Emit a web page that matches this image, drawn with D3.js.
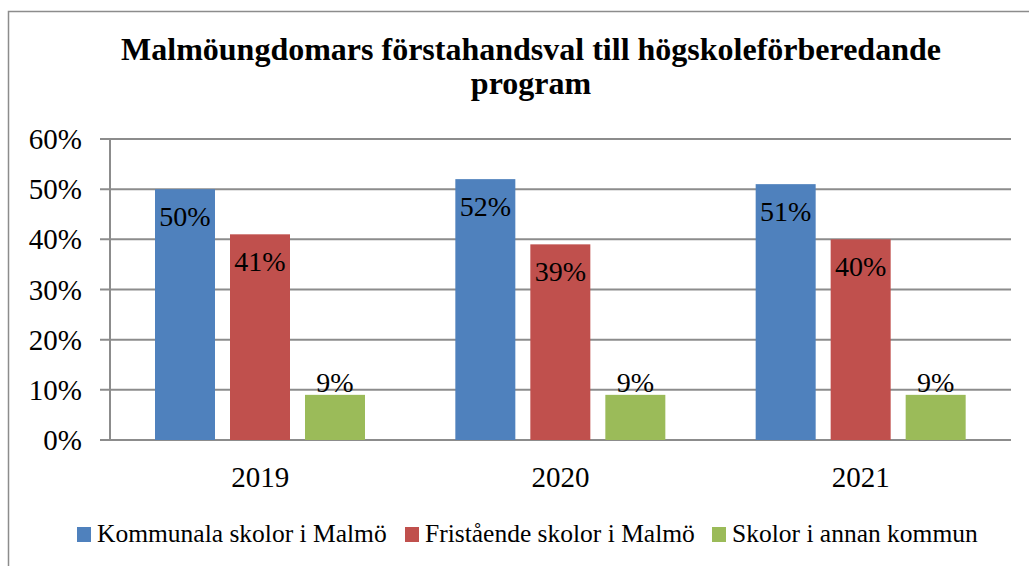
<!DOCTYPE html>
<html>
<head>
<meta charset="utf-8">
<script src="https://cdn.jsdelivr.net/npm/d3@7"></script>
<style>
  body { margin: 0; background: #fff; }
</style>
</head>
<body>
<div id="chart"></div>
<script>
// data
const years = ["2019", "2020", "2021"];
const seriesNames = ["Kommunala skolor i Malmö", "Fristående skolor i Malmö", "Skolor i annan kommun"];
const kommunala = [0.50, 0.52, 0.51];
const fristaende = [0.41, 0.39, 0.40];
const annanKommun = [0.09, 0.09, 0.09];
const yTicks = [0, 0.1, 0.2, 0.3, 0.4, 0.5, 0.6];
const colors = ["#4f81bd", "#c0504d", "#9bbb59"];

const FONT = "'Liberation Serif', 'DejaVu Serif', 'Times New Roman', serif";

const W = 1029, H = 566;
const margin = {top: 139, right: 18, bottom: 126, left: 110};
const width = W - margin.left - margin.right,
      height = H - margin.top - margin.bottom;

const svg = d3.select("#chart").append("svg")
    .attr("width", W)
    .attr("height", H)
    .attr("font-family", FONT);

// outer frame
svg.append("rect")
    .attr("x", 8.5).attr("y", 11.5)
    .attr("width", W + 10).attr("height", H + 10)
    .attr("fill", "none").attr("stroke", "#8c8c8c").attr("stroke-width", 1.5);

// title
const title = svg.append("text")
    .attr("text-anchor", "middle")
    .attr("font-family", FONT)
    .attr("font-weight", "bold")
    .attr("font-size", 32);
title.append("tspan").attr("x", 531).attr("y", 60).text("Malmöungdomars förstahandsval till högskoleförberedande");
title.append("tspan").attr("x", 531).attr("y", 94).text("program");

const g = svg.append("g")
    .attr("transform", "translate(" + margin.left + "," + margin.top + ")");

const x = d3.scaleBand().domain(years).range([0, width]);
const x1 = d3.scaleBand().domain([0, 1, 2]).range([45, 255]).paddingInner(0.2);
const y = d3.scaleLinear().domain([0, 0.6]).range([height, 0]);

// grid
g.selectAll(".grid").data(yTicks).enter()
    .append("line")
    .attr("x1", -10).attr("x2", width)
    .attr("y1", d => y(d)).attr("y2", d => y(d))
    .attr("stroke", "#8c8c8c").attr("stroke-width", 2);

// y axis line
g.append("line")
    .attr("x1", 0).attr("x2", 0)
    .attr("y1", 0).attr("y2", height)
    .attr("stroke", "#8c8c8c").attr("stroke-width", 2);

// y labels
const yAxis = g.append("g")
    .call(d3.axisLeft(y).tickValues(yTicks).tickFormat(d3.format(".0%")).tickSize(0).tickPadding(28));
yAxis.attr("font-family", FONT).attr("font-size", 29);
yAxis.select(".domain").remove();
yAxis.selectAll("text").attr("dy", "0.33em").attr("fill", "#000");

// x labels
const xAxis = g.append("g")
    .attr("transform", "translate(0," + height + ")")
    .call(d3.axisBottom(x).tickSize(0).tickPadding(26));
xAxis.attr("font-family", FONT).attr("font-size", 29);
xAxis.select(".domain").remove();
xAxis.selectAll("text").attr("fill", "#000");

// bars
const series = [kommunala, fristaende, annanKommun];
const rows = [];
series.forEach((vals, s) => vals.forEach((v, i) => rows.push({year: years[i], s: s, v: v})));

g.selectAll(".bar").data(rows).enter()
    .append("rect")
    .attr("x", d => x(d.year) + x1(d.s))
    .attr("width", x1.bandwidth())
    .attr("y", d => y(d.v))
    .attr("height", d => height - y(d.v))
    .attr("fill", d => colors[d.s]);

// data labels (inside end for tall bars, outside end for short)
g.selectAll(".lbl").data(rows).enter()
    .append("text")
    .attr("text-anchor", "middle")
    .attr("font-family", FONT)
    .attr("font-size", 28)
    .attr("fill", "#000")
    .attr("x", d => x(d.year) + x1(d.s) + x1.bandwidth() / 2)
    .attr("y", d => d.v > 0.2 ? y(d.v) + 37 : y(d.v) - 3)
    .text(d => d3.format(".0%")(d.v));

// legend
const legendX = [77, 405, 712];
const leg = svg.append("g");
seriesNames.forEach((n, i) => {
  leg.append("rect")
     .attr("x", legendX[i]).attr("y", 527)
     .attr("width", 14).attr("height", 15)
     .attr("fill", colors[i]);
  leg.append("text")
     .attr("x", legendX[i] + 20).attr("y", 542)
     .attr("font-family", FONT)
     .attr("font-size", 25.5)
     .attr("fill", "#000")
     .text(n);
});
</script>
</body>
</html>
